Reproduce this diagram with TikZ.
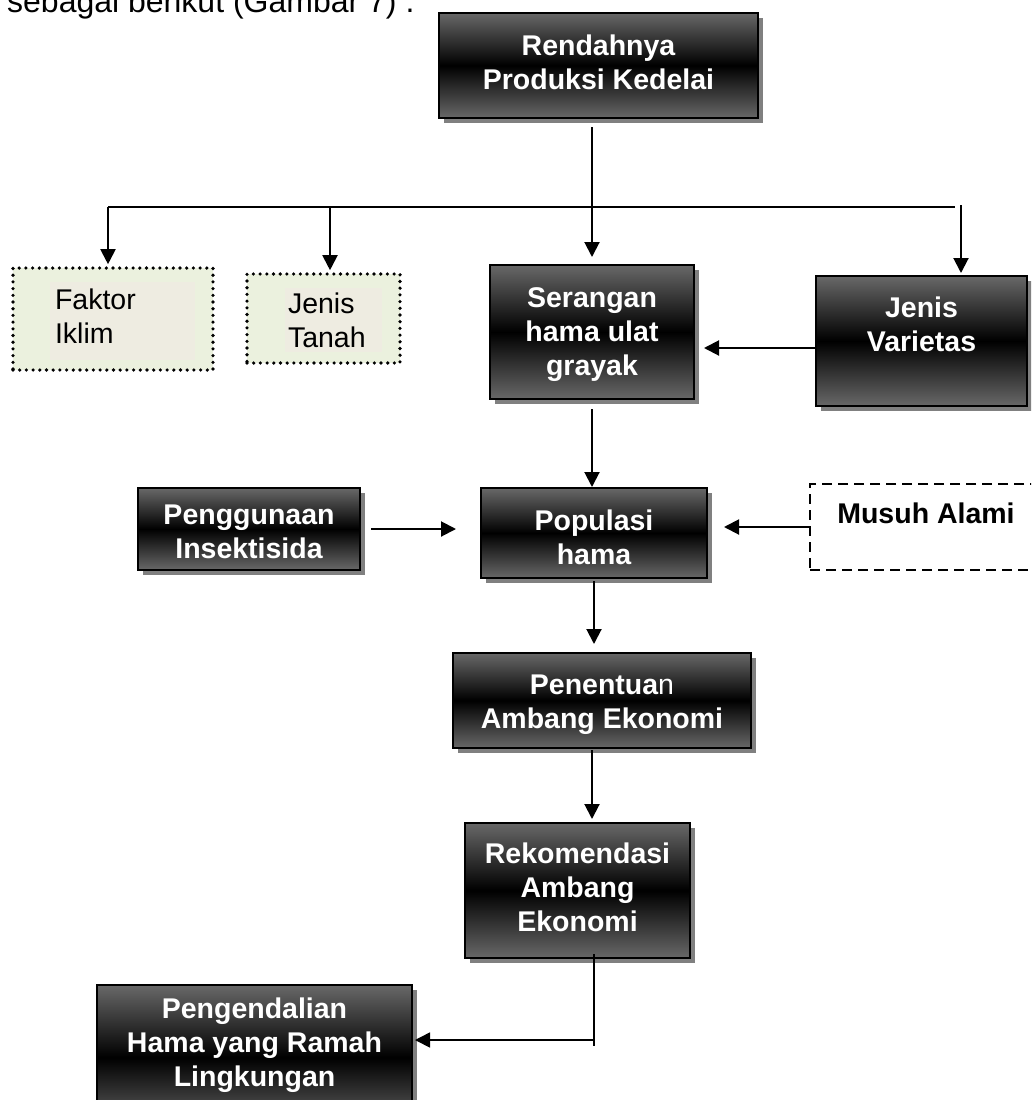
\documentclass[tikz,border=0pt]{standalone}
\usepackage{fontspec}
\setmainfont{Liberation Sans}
\usetikzlibrary{arrows.meta,shadows}
\definecolor{boxgray}{RGB}{104,104,104}
\definecolor{outfill}{RGB}{235,241,222}
\definecolor{infill}{RGB}{238,236,225}
\definecolor{shadowgray}{RGB}{128,128,128}
\newcommand\mybx[4]{\begin{minipage}[c][#2pt][t]{#1pt}\centering\vspace*{#3pt}#4\end{minipage}}
\newcommand\mylb[5]{\begin{minipage}[c][#2pt][t]{#1pt}\raggedright\leftskip=#4pt\vspace*{#3pt}#5\end{minipage}}
\begin{document}
\begin{tikzpicture}[x=1pt,y=-1pt,
  darkbox/.style={draw=black, line width=2pt, inner sep=0pt,
    top color=boxgray, bottom color=boxgray, middle color=black,
    text=white, font=\fontsize{28.5}{34}\selectfont\bfseries,
    drop shadow={shadow xshift=5pt, shadow yshift=-5pt, fill=shadowgray, opacity=1}},
  dotbox/.style={draw=black, line width=3.6pt, dash pattern=on 0pt off 6.7pt,
    line cap=round, fill=outfill, inner sep=0pt},
  intext/.style={fill=infill, inner sep=0pt, text=black,
    font=\fontsize{28.5}{34}\selectfont},
  dashbox/.style={draw=black, line width=2pt, dash pattern=on 10pt off 6pt,
    inner sep=0pt, text=black, font=\fontsize{28.5}{34}\selectfont\bfseries},
  ln/.style={draw=black, line width=2pt},
  arr/.style={ln, -{Triangle[width=15pt,length=15pt]}}
]
\path[use as bounding box] (0,0) rectangle (1031,1100);
\clip (0,0) rectangle (1031,1100);

\node[anchor=base west, inner sep=0pt, font=\fontsize{32}{38}\selectfont] (cap) at (7,12.5) {sebagai berikut (Gambar 7) .};

% dark boxes
\node[darkbox] (rend) at (598.5,65.5) {\mybx{319}{105}{21.6}{Rendahnya\\Produksi Kedelai}};
\node[darkbox] (ser) at (592,332) {\mybx{204}{134}{22.6}{Serangan\\hama ulat\\grayak}};
\node[darkbox] (var) at (921.5,341) {\mybx{211}{130}{20.6}{Jenis\\Varietas}};
\node[darkbox] (ins) at (249,529) {\mybx{222}{82}{16.6}{Penggunaan\\Insektisida}};
\node[darkbox] (pop) at (594,533) {\mybx{226}{90}{21.6}{Populasi\\hama}};
\node[darkbox] (pen) at (602,700.5) {\mybx{298}{95}{21.6}{Penentua{\mdseries n}\\Ambang Ekonomi}};
\node[darkbox] (rek) at (577.5,890.5) {\mybx{225}{135}{19.6}{Rekomendasi\\Ambang\\Ekonomi}};
\node[darkbox] (pgd) at (254.5,1057.5) {\mybx{315}{145}{12.6}{Pengendalian\\Hama yang Ramah\\Lingkungan}};

% dotted boxes
\node[dotbox, minimum width=200pt, minimum height=102pt] (fak) at (113,319) {};
\node[intext] (faktxt) at (122.5,321) {\mylb{145}{78}{6.6}{5}{Faktor\\Iklim}};
\node[dotbox, minimum width=153pt, minimum height=89pt] (tan) at (323.5,318.5) {};
\node[intext] (tantxt) at (333.5,320) {\mylb{97}{64}{4.6}{3}{Jenis\\Tanah}};

% dashed box
\node[dashbox] (mus) at (926,527) {\mybx{232}{86}{18.6}{Musuh Alami}};

% connectors
\draw[arr, shorten <=8pt, shorten >=7pt] (rend.south -| ser.north) -- (ser.north);
\coordinate (hl) at (108,207);
\coordinate (ht) at (330,207);
\coordinate (hr) at (955,207);
\coordinate (hv) at (961,205);
\draw[ln] (hl) -- (hr);
\draw[arr, shorten >=2pt] (hl) -- (hl |- fak.north);
\draw[arr, shorten >=2pt] (ht) -- (ht |- tan.north);
\draw[arr, shorten >=2pt] (hv) -- (hv |- var.north);
\coordinate (vy) at (0,348);
\draw[arr, shorten >=9pt] (var.west |- vy) -- (ser.east |- vy);
\draw[arr, shorten <=9pt] (ser.south) -- (ser.south |- pop.north);
\draw[arr, shorten <=10pt, shorten >=24pt] (ins.east) -- (ins.east -| pop.west);
\draw[arr, shorten >=16pt] (mus.west) -- (mus.west -| pop.east);
\draw[arr, shorten <=2pt, shorten >=8pt] (pop.south) -- (pop.south |- pen.north);
\coordinate (pr) at (592,750);
\draw[arr, shorten >=3pt] (pr) -- (pr |- rek.north);
\coordinate (rk) at (594,954);
\coordinate (rb) at (594,1046);
\coordinate (rj) at (594,1040);
\draw[ln, line width=1.6pt] (rk) -- (rb);
\draw[arr, line width=1.6pt, shorten >=2pt] (rj) -- (rj -| pgd.east);
\end{tikzpicture}
\end{document}
